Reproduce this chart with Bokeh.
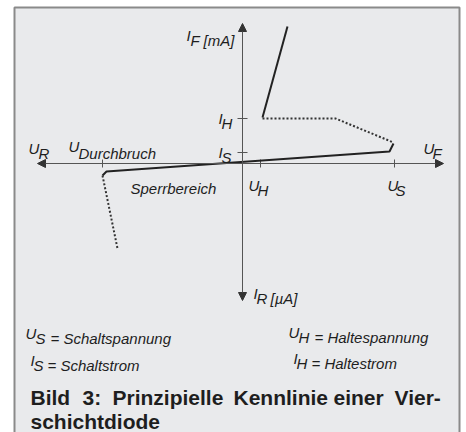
from bokeh.plotting import figure
from bokeh.models import Range1d, Arrow, NormalHead
from bokeh.core.properties import value
from bokeh.embed import file_html
from bokeh.resources import INLINE

# ---- schematic data (arbitrary units, origin = 0/0) ----
U_S = 152      # Schaltspannung
U_H = 18       # Haltespannung
U_BR = -140    # Durchbruchspannung
I_S = 11       # Schaltstrom
I_H = 45       # Haltestrom

# on-state branch (solid)
on_u = [20, 45]
on_i = [46, 137]
# negative-resistance branch (dotted)
neg_u = [20, 93, 151]
neg_i = [45, 45, 21]
# blocking branch (solid)
blk_u = [151, 147, -136, -140]
blk_i = [20, 12, -8, -12]
# breakdown branch (dotted)
brk_u = [-140, -125]
brk_i = [-12, -85]

u_ticks = [U_BR, U_H, U_S]
i_ticks = [I_S, I_H]

caption_words = ["Bild", "3:", "Prinzipielle", "Kennlinie", "einer", "Vier-"]
caption_line2 = "schichtdiode"

# ---- figure: one data unit = one pixel, origin at page (242,163) ----
OX, OY = 242, 163
W, H = 466, 432
p = figure(width=W, height=H, output_backend="svg", toolbar_location=None,
           x_range=Range1d(0 - OX, W - OX), y_range=Range1d(OY - H, OY),
           min_border=0, background_fill_color="white", border_fill_color="white")
p.axis.visible = False
p.grid.visible = False
p.outline_line_color = None

def X(px):
    return px - OX

def Y(py):
    return OY - py

# panel box
p.quad(left=X(14), right=X(459), top=Y(7), bottom=Y(450),
       fill_color="#e9eaec", line_color="#8a8a8a", line_width=2)

AX = "#555555"
HEAD = "#333333"
p.add_layout(Arrow(x_start=X(37), y_start=0, x_end=X(443), y_end=0,
                   line_color=AX, line_width=1,
                   start=NormalHead(size=8, fill_color=HEAD, line_color=HEAD),
                   end=NormalHead(size=8, fill_color=HEAD, line_color=HEAD)))
p.add_layout(Arrow(x_start=0, y_start=Y(300), x_end=0, y_end=Y(23),
                   line_color=AX, line_width=1,
                   start=NormalHead(size=8, fill_color=HEAD, line_color=HEAD),
                   end=NormalHead(size=8, fill_color=HEAD, line_color=HEAD)))

# tick marks
p.segment(x0=u_ticks, y0=[-4] * len(u_ticks), x1=u_ticks, y1=[4] * len(u_ticks),
          line_color=AX, line_width=1)
p.segment(x0=[-5] * len(i_ticks), y0=i_ticks, x1=[5] * len(i_ticks), y1=i_ticks,
          line_color=AX, line_width=1)

# characteristic
p.line(on_u, on_i, line_color="#222222", line_width=2)
p.line(blk_u, blk_i, line_color="#222222", line_width=2)
p.line(neg_u, neg_i, line_color="#333333", line_width=2, line_dash="2 2")
p.line(brk_u, brk_i, line_color="#333333", line_width=2, line_dash="2 2")

FONT = value("Liberation Sans")
TC = "#1e1e1e"

def txt(x, y, s, size="15px", style="italic"):
    p.text(x=[X(x)], y=[Y(y)], text=[s], text_font=FONT, text_font_style=style,
           text_font_size=size, text_color=TC, text_align="left",
           text_baseline="alphabetic")

def sym(x, base, main, sub, xs, rest=None, xr=None, raise_=5):
    txt(x, base - raise_, main)
    txt(xs, base, sub)
    if rest is not None:
        txt(xr, base, rest)

# axis labels
sym(186, 40, "I", "F", 190, "[mA]", 203)
sym(218, 123, "I", "H", 221)
sym(218, 157, "I", "S", 221)
sym(28, 153, "U", "R", 38)
sym(68, 153, "U", "Durchbruch", 78, raise_=7)
sym(423, 153, "U", "F", 432)
txt(130, 188, "Sperrbereich")
sym(248, 190, "U", "H", 257)
sym(387, 190, "U", "S", 395)
sym(253, 298, "I", "R", 256, "[\u00b5A]", 270)

# legend
sym(25, 338, "U", "S", 35, "= Schaltspannung", 50)
sym(30, 365, "I", "S", 33, "= Schaltstrom", 47)
sym(288, 337, "U", "H", 298, "= Haltespannung", 314)
sym(293, 363, "I", "H", 296, "= Haltestrom", 311)

# caption (justified first line)
word_x = [30, 82, 112, 233, 333, 394]
for wx, w in zip(word_x, caption_words):
    txt(wx, 397, w, size="21px", style="bold")
txt(30, 421, caption_line2, size="21px", style="bold")

open("out.html", "w").write(file_html(p, INLINE))
